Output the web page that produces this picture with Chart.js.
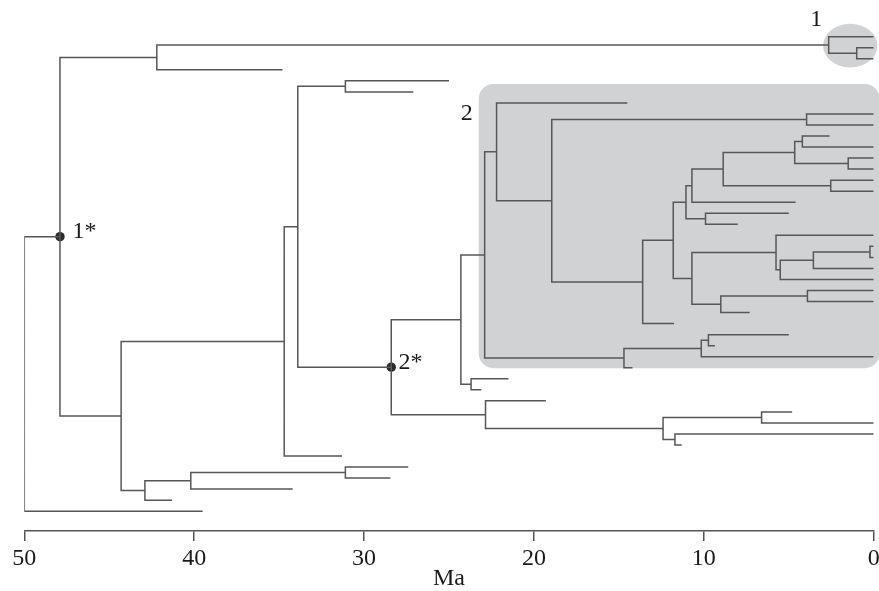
<!DOCTYPE html>
<html>
<head>
<meta charset="utf-8">
<script src="https://cdn.jsdelivr.net/npm/chart.js@4.4.1/dist/chart.umd.min.js"></script>
<style>
  html, body { margin: 0; padding: 0; background: #ffffff; }
  #wrap { width: 879px; height: 591px; position: relative; }
</style>
</head>
<body>
<div id="wrap"><canvas id="c"></canvas></div>
<script>
// ---- Data ----
// Tip (leaf) ages in Ma, listed from the top row to the bottom row
const tipAges = [0, 0, 0, 34.8, 25.0, 27.1, 14.5, 0, 0, 2.6,
                 0, 0, 0, 0, 0, 4.6, 5.0, 8.0, 0, 0,
                 0, 0, 0, 0, 0, 7.3, 11.75, 5.0, 9.35, 0,
                 14.2, 21.5, 23.1, 19.3, 4.8, 0, 0, 11.3, 31.3, 27.4,
                 28.45, 34.2, 41.3, 39.5];
// Internal nodes: name, age (Ma), two children (number = tip row, string = node)
const nodeNames = ["root", "n1", "a", "c1", "c1b", "b", "d", "f", "g", "n2",
                   "h", "k", "k1", "m", "m1", "q", "r", "s", "s1", "s3",
                   "s4", "s6", "s7", "s5", "s2", "t", "u", "w", "x", "y",
                   "v", "v1", "k2", "z", "z1", "l", "p", "p1", "p2", "p3",
                   "e", "e1", "e2"];
const nodeAges = [50.0, 47.9, 42.2, 2.65, 1.0, 44.3, 34.7, 33.9, 31.1, 28.4,
                  24.3, 22.9, 22.2, 18.95, 3.95, 13.6, 11.8, 11.05, 10.7, 8.86,
                  4.65, 4.2, 1.5, 2.53, 9.9, 10.7, 5.75, 5.5, 3.55, 0.22,
                  9.0, 3.9, 14.7, 10.15, 9.73, 23.7, 22.85, 12.4, 6.6, 11.7,
                  42.9, 40.2, 31.1];
const nodeKids = [["n1", 43], ["a", "b"], ["c1", 3], [0, "c1b"], [1, 2], ["d", "e"], ["f", 38], ["g", "n2"], [4, 5], ["h", "p"],
                  ["k", "l"], ["k1", "k2"], [6, "m"], ["m1", "q"], [7, 8], ["r", 26], ["s", "t"], ["s1", "s2"], ["s3", 15], ["s4", "s5"],
                  ["s6", "s7"], [9, 10], [11, 12], [13, 14], [16, 17], ["u", "v"], [18, "w"], ["x", 22], ["y", 21], [19, 20],
                  ["v1", 25], [23, 24], ["z", 30], ["z1", 29], [27, 28], [31, 32], [33, "p1"], ["p2", "p3"], [34, 35], [36, 37],
                  ["e1", 42], ["e2", 41], [39, 40]];
// Marked nodes and their labels
const markedNodes = ["n1", "n2"];
const markedLabels = ["1*", "2*"];
const markedLabelAge = [47.17, 27.98];
// Clade labels
const cladeLabels = ["1", "2"];
const cladeLabelAge = [3.38, 23.96];
const cladeLabelRow = [-1.53, 6.95];
// Axis
const xTickStep = 10;
const xTitle = "Ma";

// ---- Build the tree geometry ----
const nodeIndex = {};
nodeNames.forEach((n, i) => nodeIndex[n] = i);
const rowCache = {};
function rowOf(ref) {
  if (typeof ref === "number") return ref;
  if (rowCache[ref] !== undefined) return rowCache[ref];
  const kids = nodeKids[nodeIndex[ref]];
  const r = (rowOf(kids[0]) + rowOf(kids[1])) / 2;
  rowCache[ref] = r;
  return r;
}
function ageOf(ref) {
  return typeof ref === "number" ? tipAges[ref] : nodeAges[nodeIndex[ref]];
}
const branchPoints = [];
nodeNames.forEach((n, i) => {
  const pa = nodeAges[i], pr = rowOf(n);
  nodeKids[i].forEach(k => {
    const kr = rowOf(k);
    branchPoints.push({x: pa, y: pr}, {x: pa, y: kr}, {x: ageOf(k), y: kr}, {x: null, y: null});
  });
});
const dotPoints = markedNodes.map(n => ({x: nodeAges[nodeIndex[n]], y: rowOf(n)}));

// ---- Decorations plugin (shaded clades and text labels) ----
const decor = {
  id: "decor",
  beforeDatasetsDraw(chart) {
    const {ctx, scales: {x, y}} = chart;
    ctx.save();
    // clade 2 rounded box
    const x0 = x.getPixelForValue(23.25), x1 = x.getPixelForValue(-0.35);
    const y0 = y.getPixelForValue(4.28), y1 = y.getPixelForValue(30.04);
    ctx.fillStyle = "#d1d2d4";
    ctx.beginPath();
    ctx.roundRect(x0, y0, x1 - x0, y1 - y0, 15);
    ctx.fill();
    // clade 1 ellipse
    const cx = x.getPixelForValue(1.38), cy = y.getPixelForValue(0.81);
    const rx = Math.abs(x.getPixelForValue(0) - x.getPixelForValue(1.6));
    const ry = Math.abs(y.getPixelForValue(1.98) - y.getPixelForValue(0));
    ctx.beginPath();
    ctx.ellipse(cx, cy, rx, ry, 0, 0, Math.PI * 2);
    ctx.fill();
    ctx.restore();
  },
  afterDatasetsDraw(chart) {
    const {ctx, scales: {x, y}} = chart;
    ctx.save();
    ctx.fillStyle = "#1a1a1a";
    ctx.font = '24px "Liberation Serif", serif';
    ctx.textBaseline = "middle";
    ctx.textAlign = "left";
    markedNodes.forEach((n, i) => {
      ctx.fillText(markedLabels[i], x.getPixelForValue(markedLabelAge[i]), y.getPixelForValue(rowOf(n)) - 4.6);
    });
    ctx.textAlign = "center";
    cladeLabels.forEach((t, i) => {
      ctx.fillText(t, x.getPixelForValue(cladeLabelAge[i]), y.getPixelForValue(cladeLabelRow[i]));
    });
    ctx.restore();
  }
};

new Chart(document.getElementById("c"), {
  type: "scatter",
  data: {
    datasets: [
      {
        type: "line",
        data: branchPoints,
        borderColor: "#575757",
        borderWidth: 1.5,
        pointRadius: 0,
        spanGaps: false,
        tension: 0,
        fill: false
      },
      {
        data: dotPoints,
        pointRadius: 4.7,
        pointBackgroundColor: "#2b2b2b",
        pointBorderWidth: 0,
        pointHoverRadius: 4.7
      }
    ]
  },
  options: {
    responsive: true,
    maintainAspectRatio: false,
    animation: false,
    events: [],
    layout: { padding: { left: 24.3, right: 5.3, top: 0, bottom: 0 } },
    plugins: { legend: { display: false }, tooltip: { enabled: false } },
    scales: {
      x: {
        type: "linear",
        min: 0,
        max: 50,
        reverse: true,
        afterFit(scale) { scale.height = 60; scale.paddingLeft = 0; scale.paddingRight = 0; },
        border: { display: true, color: "#555555", width: 1.5 },
        grid: { drawOnChartArea: false, drawTicks: true, tickLength: 10, color: "#555555", lineWidth: 1.5 },
        ticks: { stepSize: xTickStep, color: "#1a1a1a", padding: 3, font: { family: '"Liberation Serif", serif', size: 24 }, maxRotation: 0 },
        title: { display: true, text: xTitle, color: "#1a1a1a", padding: { top: -5, bottom: -2 }, font: { family: '"Liberation Serif", serif', size: 24 } }
      },
      y: {
        type: "linear",
        display: false,
        reverse: true,
        min: -2.901,
        max: 44.795
      }
    }
  },
  plugins: [decor]
});
</script>
</body>
</html>
